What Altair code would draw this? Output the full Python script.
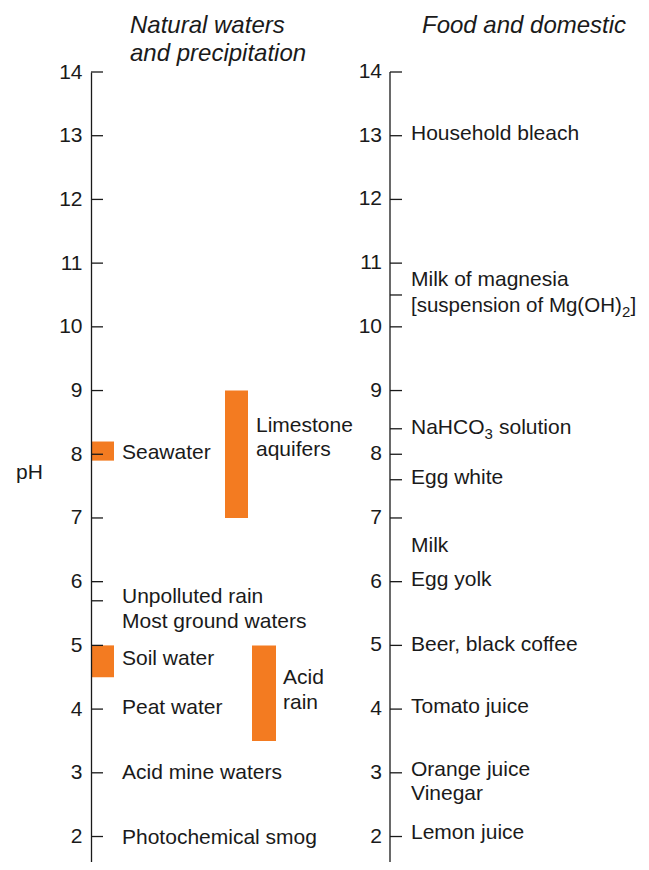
import altair as alt
import pandas as pd

FONT = "Liberation Sans, Arial, Helvetica, sans-serif"
INK = "#1a1a1a"
ORANGE = "#F37B21"

# ---------------- data (pH values) ----------------
ph_ticks = list(range(2, 15))
nat_extra_ticks = [5.7]
food_extra_ticks = [10.5, 8.4, 7.6]

range_names = ["Seawater", "Soil water", "Limestone aquifers", "Acid rain"]
range_low = [7.9, 4.5, 7.0, 3.5]
range_high = [8.2, 5.0, 9.0, 5.0]
range_slot = ["edge", "edge", "lime", "acid"]

nat_text = ["Seawater", "Limestone", "aquifers", "Unpolluted rain",
            "Most ground waters", "Soil water", "Acid", "rain",
            "Peat water", "Acid mine waters", "Photochemical smog"]
nat_ph = [8.02, 8.45, 8.07, 5.76, 5.37, 4.78, 4.49, 4.10, 4.02, 3.0, 1.98]
nat_slot = ["edge", "lime", "lime", "edge", "edge", "edge", "acid", "acid",
            "edge", "edge", "edge"]

food_text = ["Household bleach", "Milk of magnesia", "NaHCO", "Egg white",
             "Milk", "Egg yolk", "Beer, black coffee", "Tomato juice",
             "Orange juice", "Vinegar", "Lemon juice"]
food_ph = [13.03, 10.74, 8.42, 7.62, 6.56, 6.03, 5.0, 4.04, 3.05, 2.66, 2.05]

mg_text = "[suspension of Mg(OH)"
mg_ph = 10.33

titles = ["Natural waters", "and precipitation", "Food and domestic"]
title_ph = [14.72, 14.28, 14.72]
title_slot = ["nat", "nat", "food"]

# ---------------- layout (horizontal units = px from left axis) ----------------
W, H = 550, 790
Y_MIN, Y_MAX = 1.6, 14
TICK = 12
BAR_X = {"edge": (0.7, 23), "lime": (134, 157), "acid": (161, 185)}
TEXT_X = {"edge": 31, "lime": 165, "acid": 192}
FOOD_AXIS = 299
FOOD_TEXT = 320
FOOD_NUM = 291
TITLE_X = {"nat": 39, "food": 331}
PH_X = -75

xs = alt.Scale(domain=[0, W], range=[0, W], nice=False, zero=False)
ys = alt.Scale(domain=[Y_MIN, Y_MAX], nice=False, zero=False)
yaxis = alt.Axis(values=ph_ticks, tickSize=0, labelPadding=9, labelFontSize=21,
                 labelFont=FONT, labelColor=INK, domainColor=INK, domainWidth=1.3,
                 grid=False, title=None, zindex=1)


def X(f):
    return alt.X(f, type="quantitative", scale=xs, axis=None)


def Y(f):
    return alt.Y(f, type="quantitative", scale=ys, axis=yaxis)


bars_df = pd.DataFrame({
    "name": range_names, "lo": range_low, "hi": range_high,
    "x": [BAR_X[s][0] for s in range_slot], "x2": [BAR_X[s][1] for s in range_slot],
})
bars = alt.Chart(bars_df).mark_rect(color=ORANGE).encode(
    x=X("x"), x2="x2", y=Y("lo"), y2="hi")

ticks_df = pd.DataFrame(
    [{"ph": v, "x": 0, "x2": TICK} for v in ph_ticks + nat_extra_ticks]
    + [{"ph": v, "x": FOOD_AXIS, "x2": FOOD_AXIS + TICK} for v in ph_ticks + food_extra_ticks])
ticks = alt.Chart(ticks_df).mark_rule(color=INK, strokeWidth=1.3).encode(
    x=X("x"), x2="x2", y=Y("ph"))

axis_df = pd.DataFrame({"x": [FOOD_AXIS], "top": [Y_MAX], "bottom": [Y_MIN]})
food_axis = alt.Chart(axis_df).mark_rule(color=INK, strokeWidth=1.3).encode(
    x=X("x"), y=Y("top"), y2="bottom")

nums_df = pd.DataFrame({"ph": ph_ticks, "label": [str(v) for v in ph_ticks],
                        "x": [FOOD_NUM] * len(ph_ticks)})
nums = alt.Chart(nums_df).mark_text(align="right", baseline="middle", fontSize=21,
                                     font=FONT, color=INK).encode(
    x=X("x"), y=Y("ph"), text="label")

labels_df = pd.DataFrame(
    [{"t": t, "ph": p, "x": TEXT_X[s]} for t, p, s in zip(nat_text, nat_ph, nat_slot)]
    + [{"t": t, "ph": p, "x": FOOD_TEXT} for t, p in zip(food_text, food_ph)])
labels = alt.Chart(labels_df).mark_text(align="left", baseline="middle", fontSize=21,
                                         font=FONT, color=INK).encode(
    x=X("x"), y=Y("ph"), text="t")


def piece(text, ph, dx, size, dy=0):
    df = pd.DataFrame({"t": [text], "ph": [ph], "x": [FOOD_TEXT]})
    return alt.Chart(df).mark_text(align="left", baseline="middle", fontSize=size,
                                   font=FONT, color=INK, dx=dx, dy=dy).encode(
        x=X("x"), y=Y("ph"), text="t")


na_ph = food_ph[2]
subs = [
    piece(mg_text, mg_ph, 0, 20.5),
    piece("2", mg_ph, 211, 15, 6),
    piece("]", mg_ph, 219.5, 20.5),
    piece("3", na_ph, 73.5, 15, 6),
    piece("solution", na_ph, 88, 21),
]

titles_df = pd.DataFrame({"t": titles, "ph": title_ph,
                          "x": [TITLE_X[s] for s in title_slot]})
title_marks = alt.Chart(titles_df).mark_text(align="left", baseline="middle", fontSize=24,
                                              font=FONT, fontStyle="italic", color=INK).encode(
    x=X("x"), y=Y("ph"), text="t")

ph_df = pd.DataFrame({"t": ["pH"], "ph": [7.7], "x": [PH_X]})
ph_label = alt.Chart(ph_df).mark_text(align="left", baseline="middle", fontSize=21,
                                       font=FONT, color=INK).encode(
    x=X("x"), y=Y("ph"), text="t")

chart = alt.layer(bars, ticks, food_axis, nums, labels, *subs, title_marks, ph_label).properties(
    width=W, height=H,
    autosize=alt.AutoSizeParams(type="none"),
    padding={"left": 83, "top": 64, "right": 0, "bottom": 0},
).configure_view(stroke=None)

chart.save("out.html", embed_options={"renderer": "svg", "actions": False})
